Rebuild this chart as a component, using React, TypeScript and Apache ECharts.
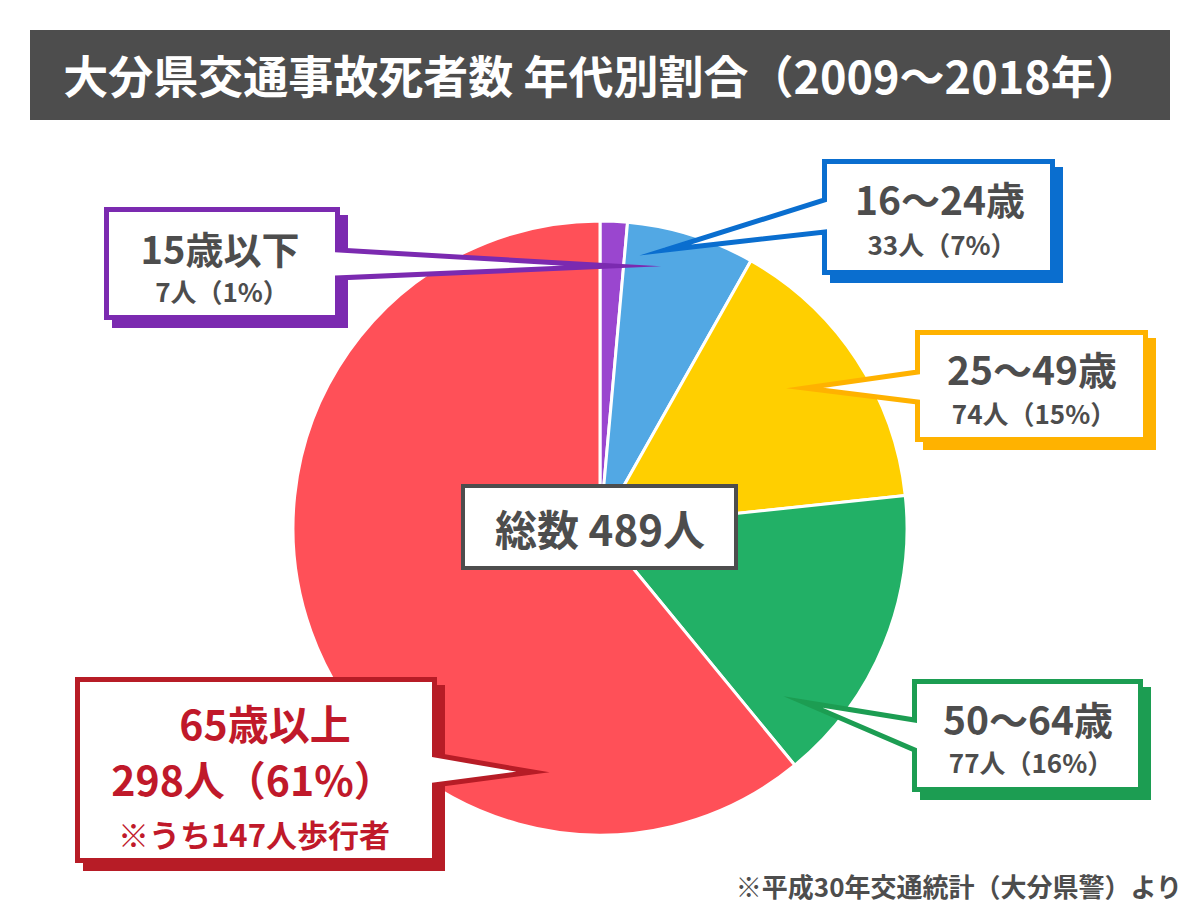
import React, { useEffect, useRef } from "react";
import * as echarts from "echarts";

const categories = ["15歳以下", "16～24歳", "25～49歳", "50～64歳", "65歳以上"];
const values = [7, 33, 74, 77, 298];
const sliceColors = ["#9a46cf", "#52a8e4", "#ffcf00", "#22b066", "#ff5058"];
const boxColors = ["#7b2ab0", "#0a6ecf", "#ffb200", "#1c9d52", "#b71c26"];
const titleText = "大分県交通事故死者数 年代別割合（2009～2018年）";
const footnote = "※平成30年交通統計（大分県警）より";
const walkerNote = "※うち147人歩行者";

const FONT = "'Noto Sans CJK JP', 'Noto Sans', sans-serif";
const GRAY = "#4d4d4d";

function txt(text: string, x: number, y: number, size: number, fill: string, align = "center", lh?: number) {
  return {
    type: "text",
    z: 20,
    style: {
      text,
      x,
      y,
      fill,
      fontSize: size,
      fontWeight: "bold",
      fontFamily: FONT,
      align,
      verticalAlign: "middle",
      textAlign: align,
      textVerticalAlign: "middle",
      lineHeight: lh ?? size,
    },
  };
}

// callout: box rect (outer edges), pointer side, pointer base ys and tip
function callout(
  color: string,
  L: number, T: number, R: number, B: number,
  side: "left" | "right",
  y1: number, y2: number, tx: number, ty: number
) {
  const h = 2.5;
  const l = L + h, t = T + h, r = R - h, b = B - h;
  let pts: number[][];
  if (side === "right") {
    pts = [[l, t], [r, t], [r, y1], [tx, ty], [r, y2], [r, b], [l, b]];
  } else {
    pts = [[l, t], [r, t], [r, b], [l, b], [l, y2], [tx, ty], [l, y1]];
  }
  return [
    { type: "rect", z: 10, shape: { x: L + 8, y: T + 8, width: R - L, height: B - T }, style: { fill: color } },
    {
      type: "polygon",
      z: 11,
      shape: { points: pts },
      style: { fill: "#ffffff", stroke: color, lineWidth: 5, lineJoin: "miter", miterLimit: 20 },
    },
  ];
}

export default function App() {
  const ref = useRef<HTMLDivElement>(null);
  useEffect(() => {
    document.body.style.margin = "0";
    if (!ref.current) return;
    const chart = echarts.init(ref.current, undefined, { renderer: "svg" });
    const total = values.reduce((a, b) => a + b, 0);
    const sub = (i: number) => `${values[i]}人（${Math.round((values[i] / total) * 100)}%）`;

    const graphic: any[] = [
      { type: "rect", z: 5, shape: { x: 30, y: 30, width: 1140, height: 90 }, style: { fill: GRAY } },
      txt(titleText, 602, 74, 45, "#ffffff"),
      // 15歳以下
      ...callout(boxColors[0], 104, 207, 340, 320, "right", 250, 278, 612, 266),
      txt(categories[0], 220, 247, 38, GRAY),
      txt(sub(0), 222, 290, 26, GRAY),
      // 16～24歳
      ...callout(boxColors[1], 822, 159, 1055, 275, "left", 200, 232, 665, 250),
      txt(categories[1], 940, 198, 39, GRAY),
      txt(sub(1), 942, 243, 26, GRAY),
      // 25～49歳
      ...callout(boxColors[2], 915, 330, 1148, 442, "left", 372, 402, 805, 388),
      txt(categories[2], 1032, 368, 39, GRAY),
      txt(sub(2), 1034, 412, 26, GRAY),
      // 50～64歳
      ...callout(boxColors[3], 912, 679, 1143, 792, "left", 720, 750, 803, 702),
      txt(categories[3], 1028, 718, 39, GRAY),
      txt(sub(3), 1031, 761, 26, GRAY),
      // 65歳以上
      ...callout(boxColors[4], 75, 677, 437, 863, "right", 755, 785, 533, 772),
      txt(categories[4], 265, 722, 41, "#c0192a"),
      txt(sub(4), 253, 778, 41, "#c0192a"),
      txt(walkerNote, 254, 833, 31, "#c0192a"),
      // center box
      {
        type: "rect",
        z: 12,
        shape: { x: 463, y: 486, width: 273, height: 82 },
        style: { fill: "#ffffff", stroke: GRAY, lineWidth: 4 },
      },
      txt(`総数 ${total}人`, 600, 527, 42, GRAY),
      txt(footnote, 1182, 885, 26, GRAY, "right"),
    ];

    chart.setOption({
      animation: false,
      backgroundColor: "#ffffff",
      series: [
        {
          type: "pie",
          center: [600, 528],
          radius: 307,
          startAngle: 90,
          clockwise: true,
          label: { show: false },
          labelLine: { show: false },
          itemStyle: { borderColor: "#ffffff", borderWidth: 3 },
          emphasis: { disabled: true },
          data: categories.map((name, i) => ({
            name,
            value: values[i],
            itemStyle: { color: sliceColors[i] },
          })),
        },
      ],
      graphic,
    });
    return () => chart.dispose();
  }, []);
  return <div ref={ref} style={{ width: 1200, height: 920 }} />;
}
